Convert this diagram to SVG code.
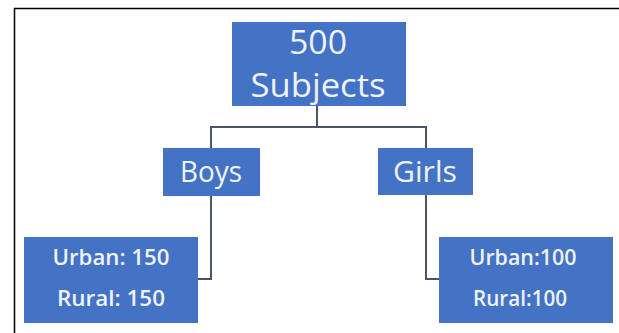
<svg xmlns="http://www.w3.org/2000/svg" width="619" height="333" viewBox="0 0 619 333">
<style>
.box{fill:#4472C4;}
.t{font-family:"Open Sans","Noto Sans",sans-serif;fill:#EEF3FC;text-anchor:middle;}
.big{font-size:33px;}
.mid{font-size:29px;}
.sm{font-size:21px;font-weight:600;}
.c{fill:none;stroke:#4A5568;stroke-width:2;}
</style>
<rect width="619" height="333" fill="#ffffff"/>
<path d="M14.5,333 V8.5 H619" fill="none" stroke="#000" stroke-width="1.5"/>
<g id="connectors">
<path class="c" d="M317,105 V127 M211,127 H426 M211,126 V148 M426,126 V148"/>
<path class="c" d="M211,196 V279 H198"/>
<path class="c" d="M426,195 V279 H439"/>
</g>
<g id="root">
<rect class="box" x="232" y="22" width="174" height="84"/>
<text class="t big" x="318" y="54" textLength="58" lengthAdjust="spacingAndGlyphs">500</text>
<text class="t big" x="318" y="97" textLength="135" lengthAdjust="spacingAndGlyphs">Subjects</text>
</g>
<g id="boys">
<rect class="box" x="163" y="148" width="97" height="48"/>
<text class="t mid" x="211" y="182" textLength="62" lengthAdjust="spacingAndGlyphs">Boys</text>
</g>
<g id="girls">
<rect class="box" x="378" y="148" width="95" height="47"/>
<text class="t mid" x="425" y="182" textLength="64" lengthAdjust="spacingAndGlyphs">Girls</text>
</g>
<g id="boys-detail">
<rect class="box" x="24" y="237" width="174" height="86"/>
<text class="t sm" x="111" y="265" textLength="117" lengthAdjust="spacingAndGlyphs">Urban: 150</text>
<text class="t sm" x="111" y="306" textLength="108" lengthAdjust="spacingAndGlyphs">Rural: 150</text>
</g>
<g id="girls-detail">
<rect class="box" x="439" y="237" width="174" height="86"/>
<text class="t sm" x="523" y="265" textLength="107" lengthAdjust="spacingAndGlyphs">Urban:100</text>
<text class="t sm" x="520" y="306" textLength="94" lengthAdjust="spacingAndGlyphs">Rural:100</text>
</g>
</svg>
